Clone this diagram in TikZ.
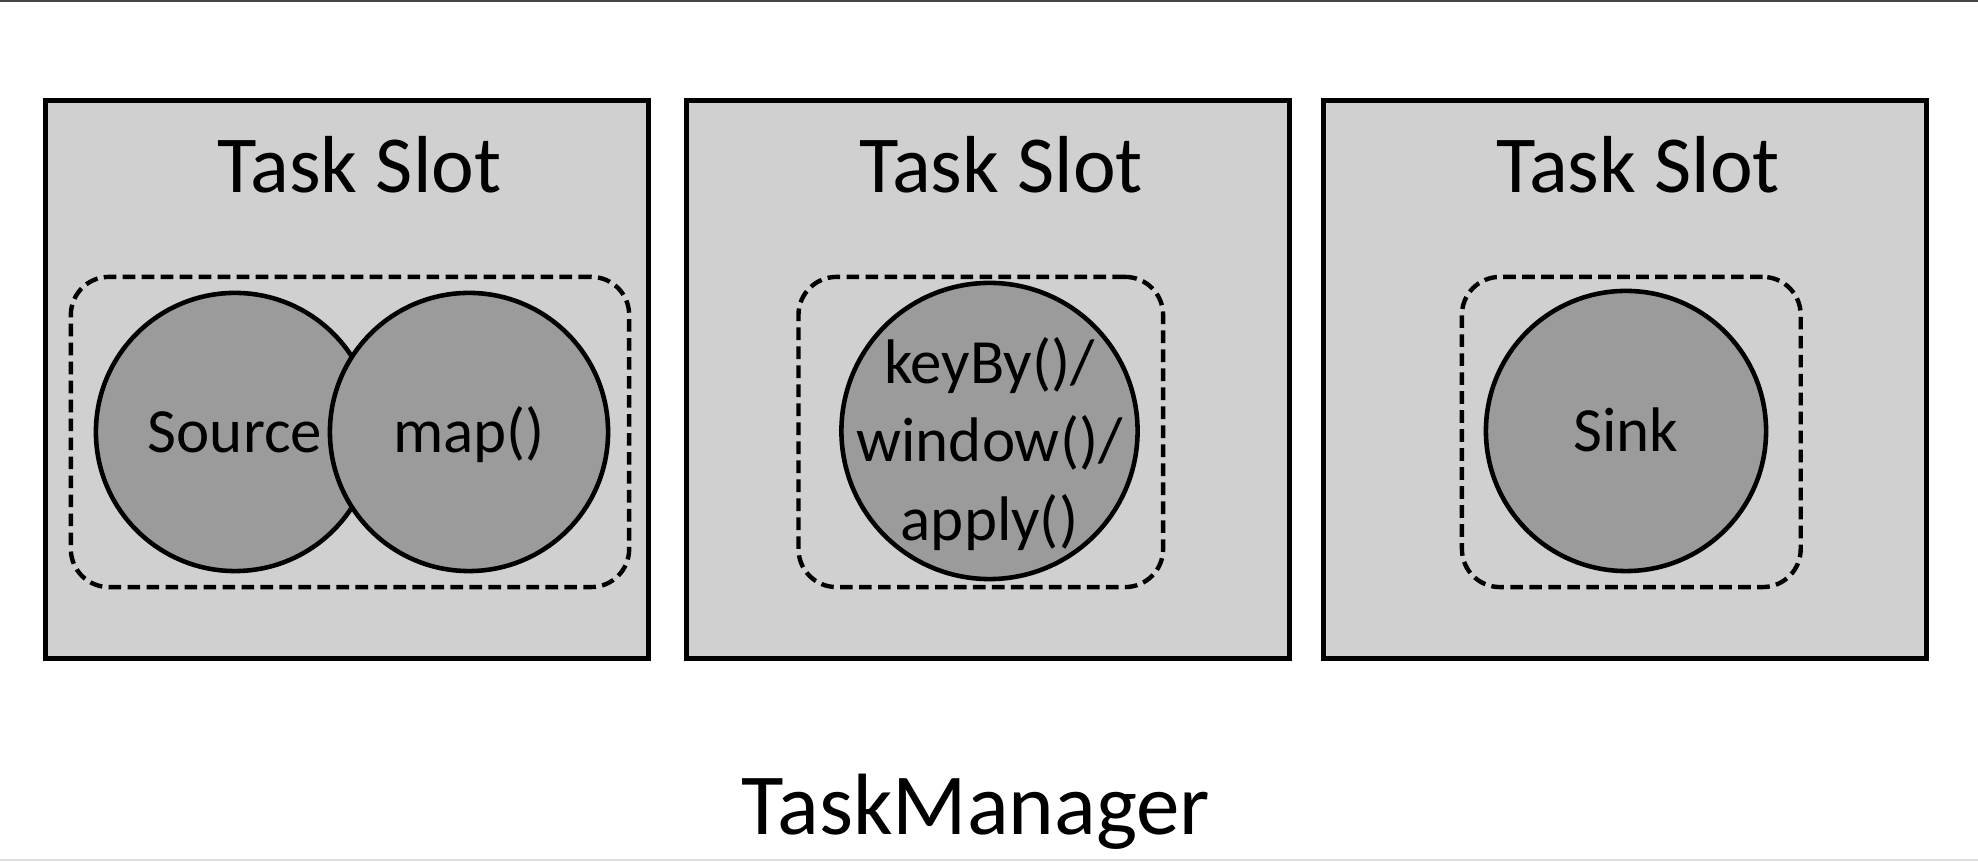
\documentclass[tikz,border=0pt]{standalone}
\usepackage{fontspec}
\setmainfont{Carlito}
\definecolor{slotfill}{RGB}{208,208,208}
\definecolor{opfill}{RGB}{155,155,155}
\definecolor{toprule}{RGB}{70,70,70}
\definecolor{botrule}{RGB}{222,222,222}
\begin{document}
\begin{tikzpicture}[x=0.01cm,y=-0.01cm,
  slotbox/.style={draw=black, line width=1.5pt, fill=slotfill, inner sep=0pt, outer sep=0pt,
    minimum height=5.575cm},
  groupbox/.style={draw=black, line width=1.25pt, dash pattern=on 3.6pt off 1.8pt,
    rounded corners=0.38cm, inner sep=0pt, minimum height=3.1cm},
  opcircle/.style={circle, draw=black, line width=1.3pt, fill=opfill, inner sep=0pt,
    font=\fontsize{17.9}{22.2}\selectfont, text height=11.5pt, text depth=0pt},
  optext/.style={font=\fontsize{17.9}{22.2}\selectfont, align=center, inner sep=0pt},
  slottitle/.style={font=\fontsize{23}{28}\selectfont, anchor=base, inner sep=0pt},
]
\useasboundingbox (0,0) rectangle (1978,862);
\fill[white] (0,0) rectangle (1978,862);
\draw[toprule, line width=0.6pt] (0,1) -- (1978,1);
\draw[botrule, line width=0.6pt] (0,860) -- (1978,860);

% slots
\node[slotbox, minimum width=6.025cm] (slot1) at (346.75,379.25) {};
\node[slotbox, minimum width=6.02cm] (slot2) at (988,379.25) {};
\node[slotbox, minimum width=6.02cm] (slot3) at (1625,379.25) {};

\node[slottitle] (title1) at (359.5,192.5) {Task Slot};
\node[slottitle] (title2) at (1001,192.5) {Task Slot};
\node[slottitle] (title3) at (1638,192.5) {Task Slot};

% groups
\node[groupbox, minimum width=5.58cm] (group1) at (350,432) {};
\node[groupbox, minimum width=3.644cm] (group2) at (980.8,432) {};
\node[groupbox, minimum width=3.386cm] (group3) at (1631.3,432) {};

% operators
\node[opcircle, minimum size=2.78cm] (source) at (235,432) {Source};
\node[opcircle, minimum size=2.78cm] (map) at (469,432) {map()};
\node[opcircle, minimum size=2.96cm] (keyby) at (989.5,431) {};
\node[optext] (keybytext) at (989.5,444) {keyBy()/\\window()/\\apply()};
\node[opcircle, minimum size=2.8cm] (sink) at (1626,431) {Sink};

\node[font=\fontsize{24.75}{30}\selectfont, anchor=base, inner sep=0pt] (tm) at (976,835) {TaskManager};
\end{tikzpicture}
\end{document}
